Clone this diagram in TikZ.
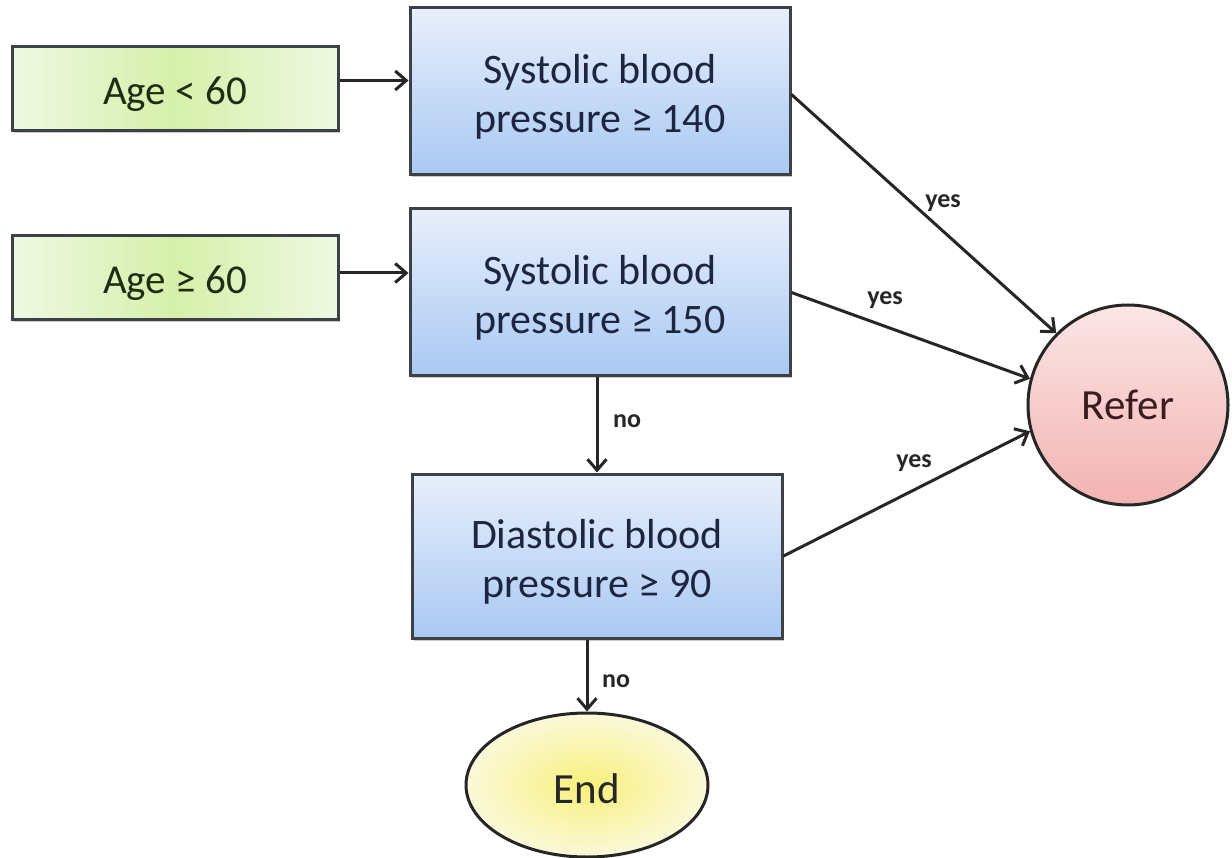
\documentclass[tikz,border=0pt]{standalone}
\usepackage{fontspec}
\setmainfont{Carlito}
\usetikzlibrary{arrows.meta,shadows,shapes.geometric}
\definecolor{edgegray}{HTML}{3C4148}
\definecolor{bluetop}{HTML}{E8EFFB}
\definecolor{bluebot}{HTML}{A9C8F3}
\definecolor{greenedge}{HTML}{EEF8E2}
\definecolor{greenmid}{HTML}{D6F0AA}
\definecolor{pinktop}{HTML}{FBE6E6}
\definecolor{pinkbot}{HTML}{F3B2B2}
\definecolor{yellowin}{HTML}{F8F07C}
\definecolor{yellowout}{HTML}{FBF9DA}
\definecolor{navytext}{HTML}{1C2640}
\definecolor{greentext}{HTML}{1E2E12}
\definecolor{redtext}{HTML}{3A1C1C}
% text set a little below the centre of its shape, keeping the node size unchanged
\newcommand\lowered[2]{\raisebox{-#1}[\height][\depth]{\begin{tabular}{@{}c@{}}#2\end{tabular}}}
\tikzset{
  boxshadow/.style={drop shadow={shadow xshift=1.5pt,shadow yshift=-2.5pt,opacity=0.35,fill=black!60}},
  testbox/.style={rectangle,draw=edgegray,line width=3pt,top color=bluetop,bottom color=bluebot,
    inner sep=0pt,text=navytext,font=\fontsize{42}{49}\selectfont,boxshadow},
  agebox/.style={rectangle,draw=edgegray,line width=3pt,left color=greenedge,right color=greenedge,
    middle color=greenmid,inner sep=0pt,text=greentext,font=\fontsize{41}{48}\selectfont,
    minimum width=326pt,minimum height=84pt,boxshadow},
  refernode/.style={circle,draw=black!85,line width=3pt,top color=pinktop,bottom color=pinkbot,
    inner sep=0pt,minimum size=200pt,text=redtext,font=\fontsize{43}{50}\selectfont},
  endnode/.style={ellipse,draw=black!85,line width=3pt,inner color=yellowin,outer color=yellowout,
    inner sep=0pt,minimum width=242pt,minimum height=144pt,text=black!85,font=\fontsize{43}{50}\selectfont},
  link/.style={draw=black!85,line width=3pt,-{Straight Barb[length=11pt,width=19pt,line width=3pt]}},
  tag/.style={font=\bfseries\fontsize{26}{30}\selectfont,text=black!85,inner sep=0pt},
}
\begin{document}
\begin{tikzpicture}[x=1pt,y=-1pt]
\useasboundingbox (0,0) rectangle (1232,858);

% condition boxes
\node[testbox,minimum width=380pt,minimum height=167pt] (sbp140) at (600,91.5)
  {\lowered{7pt}{Systolic blood\\pressure ≥ 140}};
\node[testbox,minimum width=380pt,minimum height=167pt] (sbp150) at (600,292.5)
  {\lowered{7pt}{Systolic blood\\pressure ≥ 150}};
\node[testbox,minimum width=370pt,minimum height=164pt] (dbp90) at (597,556)
  {\lowered{7pt}{Diastolic blood\\pressure ≥ 90}};

% age groups
\node[agebox] (young) at (175,88.5) {\lowered{6pt}{Age < 60}};
\node[agebox] (old) at (175,278) {\lowered{6pt}{Age ≥ 60}};

% outcomes
\node[refernode] (refer) at (1128,405) {\lowered{5pt}{Refer}};
\node[endnode] (stop) at (587,785) {\lowered{8pt}{End}};

% age to threshold
\draw[link] ([yshift=8pt]young.east) -- ([yshift=8pt]young.east -| sbp140.west);
\draw[link] ([yshift=5pt]old.east) -- ([yshift=5pt]old.east -| sbp150.west);

% yes branches
\draw[link] ([yshift=-3pt]sbp140.east) -- (refer.135);
\draw[link] (sbp150.east) -- (refer.165);
\draw[link] (dbp90.east) -- (refer.195);
\node[tag] at (943,203) {yes};
\node[tag] at (885,300) {yes};
\node[tag] at (914,463) {yes};

% no branches
\draw[link] (sbp150.south -| dbp90.north) -- (dbp90.north);
\node[tag] at (627,421) {no};
\draw[link] (dbp90.south -| stop.north) -- (stop.north);
\node[tag] at (616,681) {no};
\end{tikzpicture}
\end{document}
